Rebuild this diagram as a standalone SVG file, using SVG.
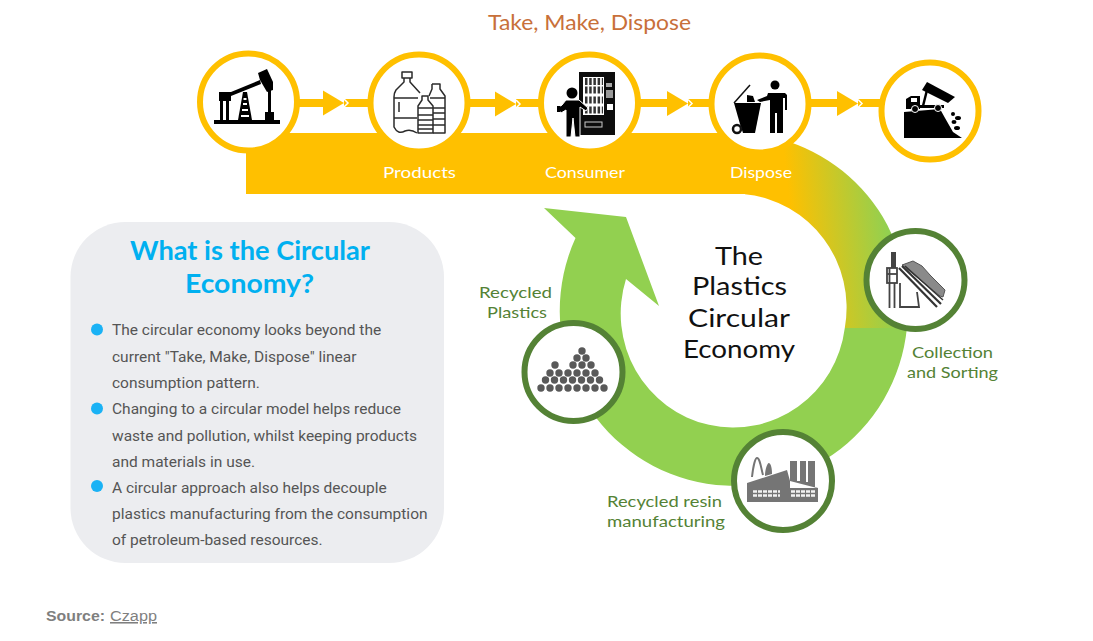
<svg xmlns="http://www.w3.org/2000/svg" xmlns:xlink="http://www.w3.org/1999/xlink" width="1093" height="641" viewBox="0 0 1093 641">
<style>
.y{fill:#fff;stroke:#FFC000;stroke-width:6}
.g{fill:#fff;stroke:#548235;stroke-width:6}
.hand{font-family:"Lato","Noto Sans",sans-serif;font-weight:400}
.w{fill:#fff;font-size:16px}
.lab{fill:#548235;font-size:16px}
.big{fill:#111;font-size:25px}
.body{font-family:"Roboto","Liberation Sans",sans-serif;font-size:15.5px;fill:#555}
.title{font-family:"Lato","Open Sans",sans-serif;font-weight:700;font-size:27.4px;fill:#00B0F0}
.dot{fill:#1AB2F5}
.link{stroke:#FFC000;stroke-width:8;fill:none}
.ol{fill:none;stroke:#2b2b2b;stroke-width:1.5;stroke-linejoin:round}
.pile{fill:#595959}
.gl{stroke:#444;stroke-width:1.8;fill:none}
</style>
<defs>
<linearGradient id="fade" gradientUnits="userSpaceOnUse" x1="790" y1="210" x2="885" y2="200">
<stop offset="0" stop-color="#FFC000"/><stop offset="1" stop-color="#92D050"/>
</linearGradient>
<g id="head"><polyline points="21,-4 25,0 21,4" fill="none" stroke="#fff" stroke-width="1.5"/><polygon points="0,-12.5 21,0 0,12.5" fill="#FFC000"/></g>
</defs>
<rect width="1093" height="641" fill="#fff"/>

<g id="flow">
<rect x="246" y="133" width="500" height="61" fill="#FFC000"/>
<path d="M745,133.2A174,175 0 0 1 906.9,328L844.8,328A112.5,114 0 0 0 745,194.3Z" fill="url(#fade)"/>
<path d="M906.9,328A174,175 0 1 1 575.5,238L544,208L626,217L659,306L626,279A112.5,114 0 1 0 844.8,328Z" fill="#92D050"/>
</g>

<g id="connectors">
<path class="link" d="M298,103H323M344,103H369M469,103H495M516,103H540M639,103H667M688,103H710M810,103H837M858,103H882"/>
<use xlink:href="#head" href="#head" x="323" y="103"/>
<use xlink:href="#head" href="#head" x="495" y="104"/>
<use xlink:href="#head" href="#head" x="667" y="103.500"/>
<use xlink:href="#head" href="#head" x="837" y="103.500"/>
</g>

<g id="title-top"><text class="hand" x="488" y="30" font-size="22" fill="#C8703A" textLength="203" lengthAdjust="spacingAndGlyphs">Take, Make, Dispose</text></g>

<g id="node-extract">
<circle class="y" cx="248.500" cy="102" r="48.500"/>
<path d="M214,120H280V124H214ZM219,92H231V101H229V120H226V101H223V120H220V101H219Z"/>
<path d="M231,92L260,80L261,84L231,96Z"/>
<path d="M258,73L267,69L273,82L273,90L267,92L260,80Z"/>
<path d="M243,92H247L252,120H238Z"/>
<path d="M243.500,99H246.500M243,104H247M242,110H248M241,116H249" stroke="#fff" stroke-width="2"/>
<path d="M268,90H271V112H274V120H265V112H268Z"/>
</g>

<g id="node-products">
<circle class="y" cx="419" cy="103" r="48.500"/>
<path class="ol" d="M402,72H412V78H402ZM404,78V82L396,90Q394,93 394,97V127Q398,135 405,131Q411,129 417,133M410,78V82L420,93"/>
<path class="ol" d="M394,98H418M394,118H417M399,102V112"/>
<path class="ol" d="M422,96H428V100L433,106V133H418V106L422,100Z"/>
<path class="ol" d="M418,108H433M418,115H433M418,120H433M418,125H433M418,129H433"/>
<path class="ol" d="M432,84H440V89L445,96V133H433M429,96L432,89V84M430,98H445M433,108H445M433,113H445M433,119H445M433,125H445"/>
</g>

<g id="node-consumer">
<circle class="y" cx="589.500" cy="103" r="48.500"/>
<path d="M579,72H615V135H579Z" fill="#0d0d0d"/>
<rect x="583" y="77" width="21" height="38" fill="#fff"/>
<path d="M585,81.500H603M585,90H603M585,100H603M585,110H603" stroke="#333" stroke-width="7" stroke-dasharray="2.500 1.700"/>
<rect x="606" y="83" width="6" height="4" fill="#aaa"/>
<rect x="606" y="90" width="7" height="8" fill="#999"/>
<rect x="607" y="104" width="6" height="6" fill="#fff"/>
<rect x="585" y="122" width="17" height="5" fill="none" stroke="#ccc"/>
<path d="M566,100H579L588,108L586,111L580,107V137H575L573,118L571,137H566V110L561,113L558,108L562,105Z" stroke="#fff" stroke-width="1"/>
<circle cx="572" cy="93" r="5.500"/>
<rect x="557" y="106" width="3.500" height="6"/>
</g>

<g id="node-dispose">
<circle class="y" cx="760" cy="104" r="48.500"/>
<circle cx="775" cy="85" r="4.500"/>
<path d="M768,93H785L787,95V110H785V98H783V133H777V113H775V133H770V100L760,102L757,100L767,96Z"/>
<path d="M734,103H761L755,133H743L740,124Z"/>
<circle cx="737" cy="129" r="4" fill="#fff" stroke="#111" stroke-width="2.500"/>
<path d="M734,103L750,85" stroke="#111" stroke-width="1.500"/>
<path d="M747,95L753,96L755,102L747,102Z"/>
</g>

<g id="node-landfill">
<circle class="y" cx="930" cy="111" r="48.500"/>
<path d="M904,112L940,109L945,118L953,132L962,138H904Z"/>
<path d="M906,109V99L911,96H920V109Z"/>
<rect x="911" y="98" width="6" height="4" fill="#fff"/>
<path d="M918,105H944V108H918Z"/>
<path d="M927,82L955,97L948,103L922,90Z"/>
<path d="M927,90L923,106" stroke="#000" stroke-width="2.500"/>
<circle cx="915" cy="109" r="3.500" stroke="#fff"/><circle cx="938" cy="108" r="3.500" stroke="#fff"/>
<ellipse cx="958" cy="118" rx="3" ry="2"/><ellipse cx="953" cy="114" rx="2" ry="2"/><ellipse cx="954" cy="122" rx="2.500" ry="2"/><ellipse cx="957" cy="128" rx="3" ry="2"/>
</g>

<g id="node-collection">
<circle class="g" cx="915.500" cy="280" r="49"/>
<rect x="891" y="252" width="5" height="16" fill="#444"/>
<path class="gl" d="M889.500,268V308M894.500,283V308M900,283V307H919L917,292"/>
<rect x="887" y="268" width="10" height="15" fill="none" stroke="#444" stroke-width="1.800"/>
<path class="gl" d="M887,274H897"/>
<path d="M902,265L913,261L922,266L930,275L937,282L945,290L943,297L940,296Z" fill="#8a8a8a" stroke="#555" stroke-width="1"/>
<path d="M899,268L937,307" stroke="#333" stroke-width="2.200"/>
<path d="M902,266L941,304" stroke="#333" stroke-width="2.200"/>
<path d="M905,266L943,300" stroke="#333" stroke-width="1.500"/>
</g>

<g id="node-resin">
<circle class="g" cx="783" cy="481" r="49"/>
<path d="M747,502V483L787,470L790,481V461H797V481H800V461H806V482H808V461H815V487L818,488V502Z" fill="#757575"/>
<path d="M752,477C753,468 755,458 757,458C760,458 761,468 763,475" fill="#fff" stroke="#757575" stroke-width="2"/>
<path d="M765,476C765,468 768,462 769,463C771,464 772,468 772,474Z" fill="#757575"/>
<path d="M790,481L817,488H790Z" fill="#fff"/>
<path d="M753,491.500H780M753,495.500H780M791,491.500H816M791,495.500H816" stroke="#f2f2f2" stroke-width="2.500" stroke-dasharray="4 1"/>
</g>

<g id="node-recycled">
<circle class="g" cx="573.500" cy="372" r="49"/>
<g class="pile">
<circle cx="541" cy="388" r="3.700"/><circle cx="550" cy="388" r="3.700"/><circle cx="559" cy="388" r="3.700"/><circle cx="568" cy="388" r="3.700"/><circle cx="577" cy="388" r="3.700"/><circle cx="586" cy="388" r="3.700"/><circle cx="595" cy="388" r="3.700"/><circle cx="604" cy="388" r="3.700"/>
<circle cx="545.500" cy="380" r="3.700"/><circle cx="554.500" cy="380" r="3.700"/><circle cx="563.500" cy="380" r="3.700"/><circle cx="572.500" cy="380" r="3.700"/><circle cx="581.500" cy="380" r="3.700"/><circle cx="590.500" cy="380" r="3.700"/><circle cx="599.500" cy="380" r="3.700"/>
<circle cx="550" cy="373" r="3.700"/><circle cx="559" cy="373" r="3.700"/><circle cx="568" cy="373" r="3.700"/><circle cx="577" cy="373" r="3.700"/><circle cx="586" cy="373" r="3.700"/><circle cx="595" cy="373" r="3.700"/>
<circle cx="555" cy="365" r="3.700"/><circle cx="573" cy="365" r="3.700"/><circle cx="582" cy="365" r="3.700"/><circle cx="591" cy="365" r="3.700"/>
<circle cx="577" cy="358" r="3.700"/><circle cx="586" cy="358" r="3.700"/>
<circle cx="582" cy="351" r="3.700"/>
</g>
</g>

<g id="labels" class="hand">
<text class="w" x="383" y="178" textLength="73" lengthAdjust="spacingAndGlyphs">Products</text>
<text class="w" x="545" y="178" textLength="80" lengthAdjust="spacingAndGlyphs">Consumer</text>
<text class="w" x="730" y="178" textLength="62" lengthAdjust="spacingAndGlyphs">Dispose</text>
<text class="lab" x="912" y="358" textLength="81" lengthAdjust="spacingAndGlyphs">Collection</text>
<text class="lab" x="907" y="378" textLength="91" lengthAdjust="spacingAndGlyphs">and Sorting</text>
<text class="lab" x="607" y="507" textLength="115" lengthAdjust="spacingAndGlyphs">Recycled resin</text>
<text class="lab" x="607" y="527" textLength="118" lengthAdjust="spacingAndGlyphs">manufacturing</text>
<text class="lab" x="479" y="298" textLength="73" lengthAdjust="spacingAndGlyphs">Recycled</text>
<text class="lab" x="487" y="318" textLength="60" lengthAdjust="spacingAndGlyphs">Plastics</text>
</g>

<g id="center-title" class="hand">
<text class="big" x="715" y="265" textLength="48" lengthAdjust="spacingAndGlyphs">The</text>
<text class="big" x="692" y="295" textLength="95" lengthAdjust="spacingAndGlyphs">Plastics</text>
<text class="big" x="688" y="327" textLength="102" lengthAdjust="spacingAndGlyphs">Circular</text>
<text class="big" x="683" y="358" textLength="112" lengthAdjust="spacingAndGlyphs">Economy</text>
</g>

<g id="panel">
<rect x="70.500" y="222" width="373.500" height="341" rx="55" ry="55" fill="#ECEDF0"/>
<text class="title" x="130" y="259.500" textLength="240" lengthAdjust="spacingAndGlyphs">What is the Circular</text>
<text class="title" x="185" y="293" textLength="129" lengthAdjust="spacingAndGlyphs">Economy?</text>
<circle class="dot" cx="97" cy="329.500" r="6"/>
<circle class="dot" cx="97" cy="408.500" r="6"/>
<circle class="dot" cx="97" cy="486" r="6"/>
<text class="body" x="112" y="335">The circular economy looks beyond the</text>
<text class="body" x="112" y="362">current "Take, Make, Dispose" linear</text>
<text class="body" x="112" y="388">consumption pattern.</text>
<text class="body" x="112" y="414">Changing to a circular model helps reduce</text>
<text class="body" x="112" y="440.500">waste and pollution, whilst keeping products</text>
<text class="body" x="112" y="467">and materials in use.</text>
<text class="body" x="112" y="493">A circular approach also helps decouple</text>
<text class="body" x="112" y="519">plastics manufacturing from the consumption</text>
<text class="body" x="112" y="545">of petroleum-based resources.</text>
</g>

<g id="source" font-family="'Liberation Sans',Arial,sans-serif" font-size="15.500" fill="#7F7F7F">
<text x="46" y="621" font-weight="700" textLength="59" lengthAdjust="spacingAndGlyphs">Source:</text>
<text x="110" y="621" text-decoration="underline" textLength="47" lengthAdjust="spacingAndGlyphs">Czapp</text>
</g>
</svg>
